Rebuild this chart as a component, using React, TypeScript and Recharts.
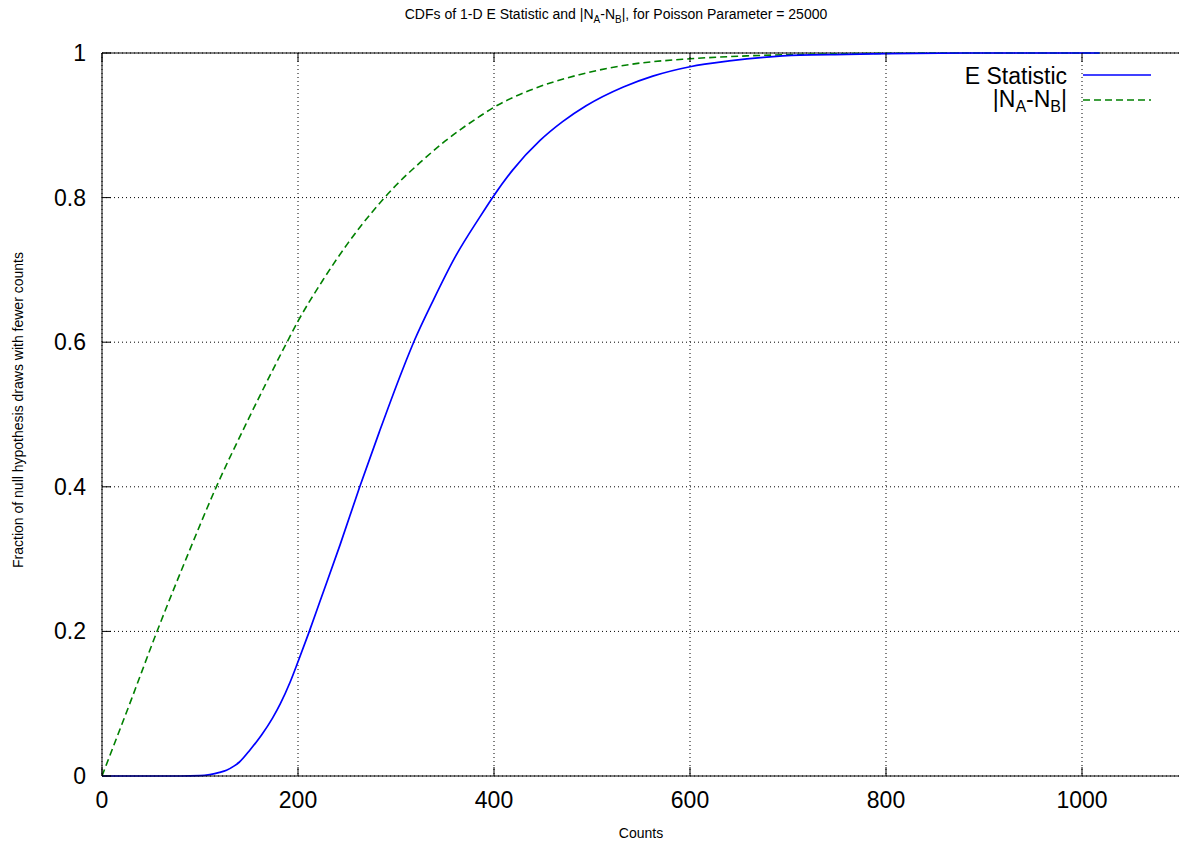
import React from "react";
import { LineChart, Line, XAxis, YAxis, CartesianGrid, ReferenceLine } from "recharts";

const eStatX = [0, 80, 100, 110, 120, 127, 135, 140, 151, 163, 174, 182, 192, 200, 211, 222, 243, 263, 283, 307, 319, 338, 360, 385, 400, 419, 447, 470, 494, 532, 562, 600, 640, 675, 712, 760, 800, 900, 1018];
const eStatY = [0, 0, 0.0005, 0.002, 0.005, 0.008, 0.014, 0.019, 0.036, 0.057, 0.08, 0.1, 0.13, 0.158, 0.198, 0.24, 0.32, 0.4, 0.476, 0.563, 0.603, 0.658, 0.717, 0.772, 0.803, 0.838, 0.879, 0.905, 0.927, 0.953, 0.968, 0.981, 0.989, 0.994, 0.997, 0.998, 0.999, 1.0, 1.0];

const diffX = [0, 30, 55, 86, 117, 147, 188, 200, 225, 251, 275, 300, 325, 350, 385, 400, 436, 487, 538, 600, 658, 712, 800, 900, 1018];
const diffY = [0, 0.106, 0.196, 0.301, 0.401, 0.487, 0.598, 0.629, 0.685, 0.737, 0.779, 0.817, 0.849, 0.878, 0.912, 0.925, 0.948, 0.97, 0.984, 0.992, 0.996, 0.998, 0.9995, 1.0, 1.0];

const xTicks = [0, 200, 400, 600, 800, 1000];
const yTicks = [0, 0.2, 0.4, 0.6, 0.8, 1];
const yTickLabels = ["0", "0.2", "0.4", "0.6", "0.8", "1"];

const eStatData = eStatX.map((x, i) => ({ x, y: eStatY[i] }));
const diffData = diffX.map((x, i) => ({ x, y: diffY[i] }));

const FONT = "'Liberation Sans', Arial, Helvetica, sans-serif";
const PLOT_TOP = 53;
const PLOT_BOTTOM = 776;
const PLOT_LEFT = 102;

const XTick = (props: any) => {
  const { x, payload } = props;
  return (
    <g>
      <line x1={x} x2={x} y1={PLOT_BOTTOM} y2={PLOT_BOTTOM - 9} stroke="#000" strokeWidth={1} />
      <line x1={x} x2={x} y1={PLOT_TOP} y2={PLOT_TOP + 9} stroke="#000" strokeWidth={1} />
      <text x={x} y={PLOT_BOTTOM + 32} textAnchor="middle" fontSize={23} fontFamily={FONT} fill="#000">
        {payload.value}
      </text>
    </g>
  );
};

const YTick = (props: any) => {
  const { y, payload } = props;
  const label = yTickLabels[yTicks.indexOf(payload.value)] ?? String(payload.value);
  return (
    <g>
      <line x1={PLOT_LEFT} x2={PLOT_LEFT + 9} y1={y} y2={y} stroke="#000" strokeWidth={1} />
      <text x={86} y={y + 8} textAnchor="end" fontSize={23} fontFamily={FONT} fill="#000">
        {label}
      </text>
    </g>
  );
};

export default function App() {
  return (
    <div style={{ position: "absolute", left: 0, top: 0, width: 1179, height: 850, overflow: "hidden", background: "#fff" }}>
      <LineChart
        width={1181}
        height={850}
        margin={{ top: PLOT_TOP, right: 1, left: 0, bottom: 0 }}
        style={{ fontFamily: FONT }}
      >
        <CartesianGrid stroke="#000" strokeDasharray="1 3" strokeWidth={1} />
        <XAxis
          type="number"
          dataKey="x"
          domain={[0, 1100]}
          ticks={xTicks}
          allowDataOverflow
          height={74}
          axisLine={{ stroke: "#000", strokeWidth: 1 }}
          tickLine={false}
          tick={<XTick />}
          interval={0}
        />
        <YAxis
          type="number"
          dataKey="y"
          domain={[0, 1]}
          ticks={yTicks}
          width={102}
          axisLine={{ stroke: "#000", strokeWidth: 1 }}
          tickLine={false}
          tick={<YTick />}
          interval={0}
        />
        <ReferenceLine y={1} stroke="#000" strokeWidth={1} ifOverflow="visible" />
        <Line
          data={diffData}
          dataKey="y"
          type="monotone"
          stroke="#008000"
          strokeWidth={1.6}
          strokeDasharray="7 4"
          dot={false}
          activeDot={false}
          isAnimationActive={false}
        />
        <Line
          data={eStatData}
          dataKey="y"
          type="monotone"
          stroke="#0000ff"
          strokeWidth={1.7}
          dot={false}
          activeDot={false}
          isAnimationActive={false}
        />
      </LineChart>
      <svg
        width={1179}
        height={850}
        style={{ position: "absolute", left: 0, top: 0, pointerEvents: "none" }}
        fontFamily={FONT}
      >
        <text x={616} y={19} textAnchor="middle" fontSize={14} fill="#000">
          CDFs of 1-D E Statistic and |N<tspan dy={4} fontSize={10}>A</tspan><tspan dy={-4}>-N</tspan><tspan dy={4} fontSize={10}>B</tspan><tspan dy={-4}>|, for Poisson Parameter = 25000</tspan>
        </text>
        <text x={641} y={838} textAnchor="middle" fontSize={14} fill="#000">
          Counts
        </text>
        <text
          x={0}
          y={0}
          transform="translate(23,410) rotate(-90)"
          textAnchor="middle"
          fontSize={14}
          fill="#000"
        >
          Fraction of null hypothesis draws with fewer counts
        </text>
        <text x={1067} y={84} textAnchor="end" fontSize={23} fill="#000">
          E Statistic
        </text>
        <line x1={1083} x2={1151} y1={75} y2={75} stroke="#0000ff" strokeWidth={1.7} />
        <text x={1067} y={107} textAnchor="end" fontSize={23} fill="#000">
          |N<tspan dy={5} fontSize={16}>A</tspan><tspan dy={-5}>-N</tspan><tspan dy={5} fontSize={16}>B</tspan><tspan dy={-5}>|</tspan>
        </text>
        <line x1={1083} x2={1151} y1={100} y2={100} stroke="#008000" strokeWidth={1.6} strokeDasharray="7 4" />
      </svg>
    </div>
  );
}
